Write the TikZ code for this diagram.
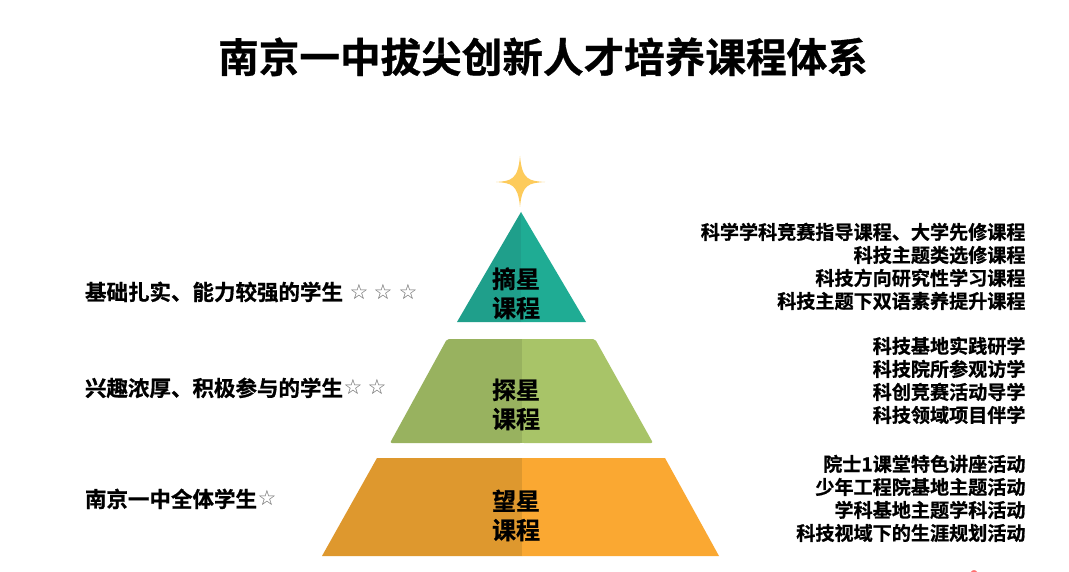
\documentclass[tikz,border=0pt]{standalone}
\usepackage{fontspec}
\setmainfont{Noto Sans CJK SC}[BoldFont={Noto Sans CJK SC Bold},BoldFeatures={FakeBold=0.8}]
\newfontfamily\starfont{DejaVu Sans}
\definecolor{tealD}{HTML}{1F9F8B}
\definecolor{tealL}{HTML}{1FAC94}
\definecolor{greenD}{HTML}{98B25F}
\definecolor{greenL}{HTML}{A8C468}
\definecolor{orangeD}{HTML}{DE982E}
\definecolor{orangeL}{HTML}{FAA832}
\definecolor{starY}{HTML}{FDCB5B}
\tikzset{
  x=1pt,y=-1pt,
  txt/.style={inner sep=0pt,outer sep=0pt,text=black},
  titletext/.style={txt,font=\bfseries\fontsize{40.6}{44}\selectfont,text height=35.7pt,text depth=4.9pt},
  leftlabel/.style={txt,anchor=west,font=\bfseries\fontsize{21.5}{24}\selectfont,text height=18.9pt,text depth=2.6pt},
  rightlabel/.style={txt,anchor=east,font=\bfseries\fontsize{19.1}{22}\selectfont,text height=16.8pt,text depth=2.3pt},
  tiertext/.style={txt,font=\bfseries\fontsize{24}{26}\selectfont,text height=21.1pt,text depth=2.9pt},
  hollowstar/.style={inner sep=0pt,outer sep=0pt,text=black!60,font=\starfont\fontsize{21}{22}\selectfont},
}
\begin{document}
\begin{tikzpicture}
\useasboundingbox (0,0) rectangle (1069,572);
\fill[white] (0,0) rectangle (1069,572);
\node[titletext] (title) at (543,57) {南京一中拔尖创新人才培养课程体系};
% four-point star
\fill[starY] (496,182) .. controls (511,181) and (518,180) .. (520,156) .. controls (522,180) and (529,181) .. (545,182) .. controls (529,183) and (522,184) .. (520,207) .. controls (518,184) and (511,183) .. (496,182) -- cycle;
% top tier
\fill[tealD] (521,212) -- (457,322) -- (521,322) -- cycle;
\fill[tealL] (521,212) -- (586,322) -- (521,322) -- cycle;
% middle tier
\fill[greenD,rounded corners=2pt] (522,339) -- (447,339) -- (390,443) -- (522,443) -- cycle;
\fill[greenL,rounded corners=2pt] (522,339) -- (595,339) -- (653,443) -- (522,443) -- cycle;
\fill[greenD] (515,339) rectangle (522,443);
\fill[greenL] (522,339) rectangle (529,443);
% bottom tier
\fill[orangeD] (522,458) -- (377,458) -- (322,556) -- (522,556) -- cycle;
\fill[orangeL] (522,458) -- (665,458) -- (719,556) -- (522,556) -- cycle;
% tier names
\node[tiertext] (t1a) at (516,279) {摘星};
\node[tiertext] (t1b) at (516,308) {课程};
\node[tiertext] (t2a) at (516,390) {探星};
\node[tiertext] (t2b) at (516,419) {课程};
\node[tiertext] (t3a) at (516,501) {望星};
\node[tiertext] (t3b) at (516,530) {课程};
% left labels
\node[leftlabel] (l1) at (85,292) {基础扎实、能力较强的学生};
\node[hollowstar] (s11) at (359,292) {☆};
\node[hollowstar] (s12) at (383,292) {☆};
\node[hollowstar] (s13) at (408,292) {☆};
\node[leftlabel] (l2) at (85,388) {兴趣浓厚、积极参与的学生};
\node[hollowstar] (s21) at (353,387) {☆};
\node[hollowstar] (s22) at (377,387) {☆};
\node[leftlabel] (l3) at (85,499) {南京一中全体学生};
\node[hollowstar] (s31) at (267,498) {☆};
% right labels
\node[rightlabel] (r11) at (1025.5,232) {科学学科竞赛指导课程、大学先修课程};
\node[rightlabel] (r12) at (1025.5,255) {科技主题类选修课程};
\node[rightlabel] (r13) at (1025.5,278) {科技方向研究性学习课程};
\node[rightlabel] (r14) at (1025.5,301) {科技主题下双语素养提升课程};
\node[rightlabel] (r21) at (1025.5,346) {科技基地实践研学};
\node[rightlabel] (r22) at (1025.5,369) {科技院所参观访学};
\node[rightlabel] (r23) at (1025.5,392) {科创竞赛活动导学};
\node[rightlabel] (r24) at (1025.5,415) {科技领域项目伴学};
\node[rightlabel] (r31) at (1025.5,464) {院士1课堂特色讲座活动};
\node[rightlabel] (r32) at (1025.5,487) {少年工程院基地主题活动};
\node[rightlabel] (r33) at (1025.5,510) {学科基地主题学科活动};
\node[rightlabel] (r34) at (1025.5,533) {科技视域下的生涯规划活动};
% small red fleck at the bottom edge
\fill[red!70!white,opacity=.8] (971,572) .. controls (972,569.5) and (976,569.5) .. (977,572) -- cycle;
\end{tikzpicture}
\end{document}
